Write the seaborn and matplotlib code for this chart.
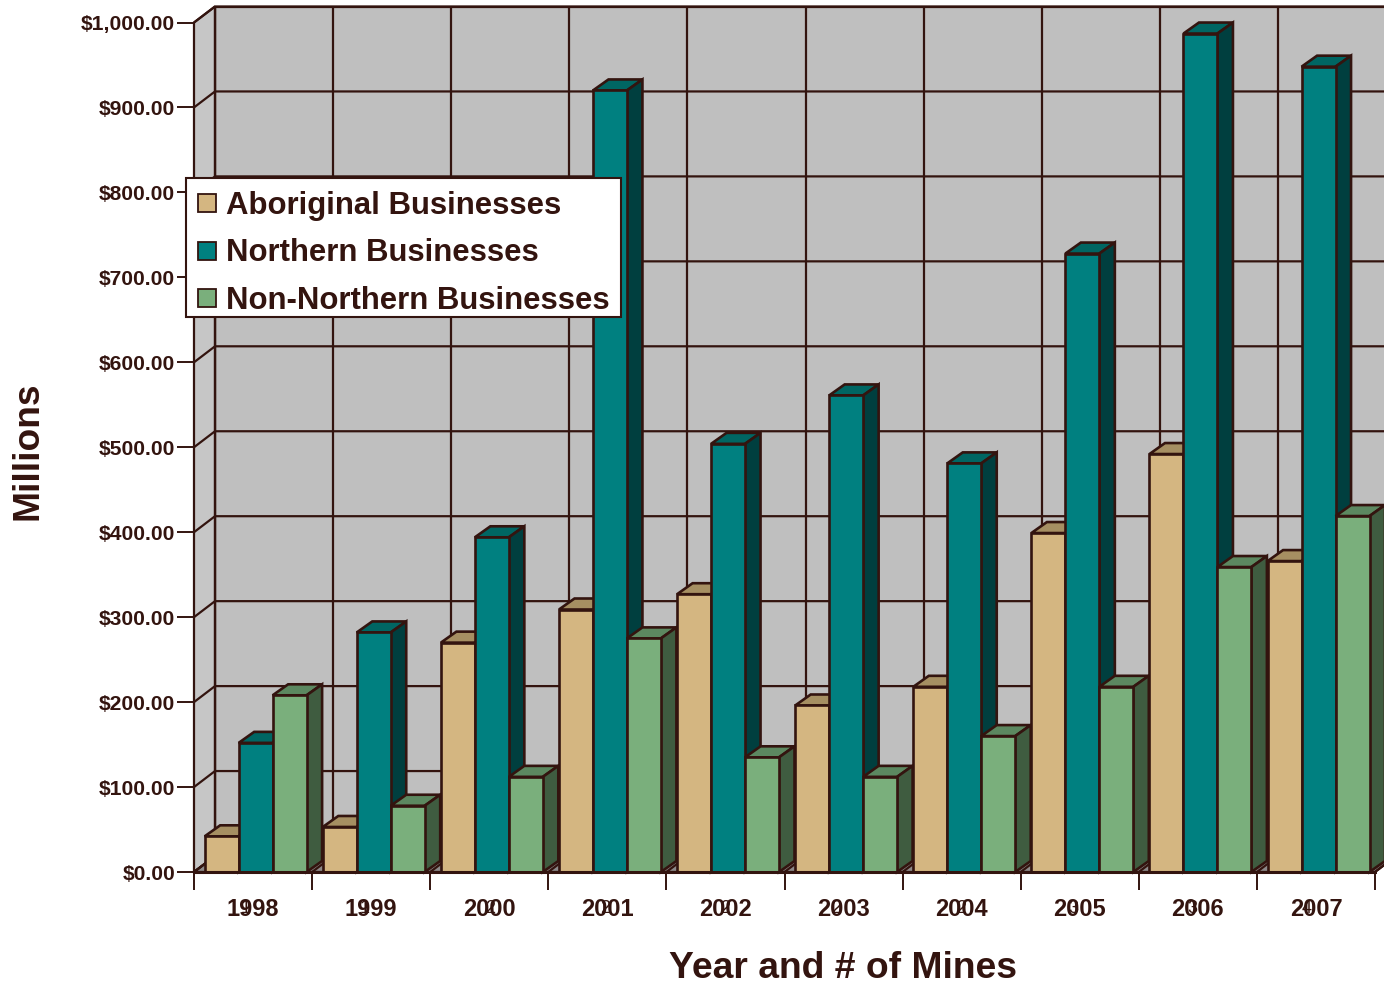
import matplotlib
matplotlib.use("Agg")
import matplotlib.pyplot as plt
from matplotlib.lines import Line2D
from matplotlib.patches import Polygon, Rectangle
from matplotlib.ticker import FuncFormatter
import pandas as pd
import seaborn as sns

years = ["1998", "1999", "2000", "2001", "2002", "2003", "2004", "2005", "2006", "2007"]
mines = ["1", "1", "2", "2", "2", "2", "2", "3", "3", "4"]
aboriginal = [42, 53, 270, 309, 327, 196, 218, 399, 492, 366]
northern = [152, 282, 394, 920, 504, 561, 481, 728, 987, 948]
non_northern = [208, 78, 112, 275, 135, 112, 160, 218, 359, 419]
series_names = ["Aboriginal Businesses", "Northern Businesses", "Non-Northern Businesses"]
y_ticks = [0, 100, 200, 300, 400, 500, 600, 700, 800, 900, 1000]

INK = "#33140F"
FRONT = ["#D4B681", "#008080", "#7AAF7C"]
TOP = ["#A68F62", "#006663", "#5C8860"]
SIDE = ["#7F6D4B", "#003F3F", "#3F5C40"]
W, H = 1384, 985

sns.set_theme(style="white")
plt.rcParams["font.family"] = ["Liberation Sans", "DejaVu Sans"]
plt.rcParams["font.weight"] = "bold"

df = pd.DataFrame({"year": years, series_names[0]: aboriginal,
                   series_names[1]: northern, series_names[2]: non_northern})
long = df.melt(id_vars="year", var_name="series", value_name="value")

fig = plt.figure(figsize=(W / 100, H / 100), dpi=100, facecolor="white")
L, R, T, B = 194, 1375, 22.5, 872
ax = fig.add_axes([L / W, 1 - B / H, (R - L) / W, (B - T) / H])
ax.set_facecolor("none")

sns.barplot(data=long, x="year", y="value", hue="series", hue_order=series_names,
            order=years, palette=FRONT, saturation=1, width=0.863, gap=0, dodge=True,
            edgecolor=INK, linewidth=1.9, legend=False, ax=ax)

shift = 0.022
ax.set_xlim(-0.5 - shift, 9.5 - shift)
ax.set_ylim(0, 1000)

px = 10 / (R - L)          # data x per pixel
py = 1000 / (B - T)        # data y per pixel
wall_dx, wall_dy = 21 * px, 16 * py
bar_dx, bar_dy = 15.5 * px, 11 * py
x0, x1 = ax.get_xlim()


def poly(points, face, z, lw=1.9):
    ax.add_patch(Polygon(points, closed=True, facecolor=face, edgecolor=INK, linewidth=lw,
                         joinstyle="miter", clip_on=False, zorder=z))


def line(xs, ys, z=1.2, lw=1.6):
    ax.plot(xs, ys, color=INK, lw=lw, clip_on=False, zorder=z, solid_capstyle="butt")


# walls and floor
poly([(x0, 0), (x0 + wall_dx, wall_dy), (x0 + wall_dx, 1000 + wall_dy), (x0, 1000)], "#C6C6C6", 0.6, lw=1.6)
poly([(x0 + wall_dx, wall_dy), (x1 + wall_dx, wall_dy), (x1 + wall_dx, 1000 + wall_dy),
      (x0 + wall_dx, 1000 + wall_dy)], "#BFBFBF", 0.5, lw=1.6)
poly([(x0, 0), (x1, 0), (x1 + wall_dx, wall_dy), (x0 + wall_dx, wall_dy)], "#8C8888", 0.7, lw=1.6)

# gridlines on the walls
for v in y_ticks:
    line([x0, x0 + wall_dx, x1 + wall_dx], [v, v + wall_dy, v + wall_dy])
boundaries = [i - 0.5 - shift for i in range(len(years) + 1)]
for b in boundaries:
    line([b + wall_dx, b + wall_dx], [wall_dy, 1000 + wall_dy])
    line([b, b + wall_dx], [0, wall_dy], z=1.3)

# 3-D faces around the seaborn bars
for s, container in enumerate(ax.containers):
    for g, bar in enumerate(container):
        z = 3 + g * 3 + s * 0.5
        xa, wd, hg = bar.get_x(), bar.get_width(), bar.get_height()
        bar.set_zorder(z + 0.2)
        poly([(xa, hg), (xa + wd, hg), (xa + wd + bar_dx, hg + bar_dy), (xa + bar_dx, hg + bar_dy)], TOP[s], z)
        poly([(xa + wd, 0), (xa + wd + bar_dx, bar_dy), (xa + wd + bar_dx, hg + bar_dy), (xa + wd, hg)], SIDE[s], z)

# axes furniture
ax.set_yticks(y_ticks)
ax.yaxis.set_major_formatter(FuncFormatter(lambda v, _: f"${v:,.2f}"))
ax.tick_params(axis="y", length=12.2, width=1.4, color=INK, labelcolor=INK, labelsize=15.2, pad=1.5, left=True)
centers = [g - shift for g in range(len(years))]
ax.set_xticks(centers)
ax.set_xticklabels(years)
ax.tick_params(axis="x", which="major", length=0, labelcolor=INK, labelsize=17, pad=19)
ax.set_xticks(boundaries, minor=True)
ax.tick_params(axis="x", which="minor", length=13, width=1.4, color=INK, bottom=True)
for lab in ax.get_xticklabels() + ax.get_yticklabels():
    lab.set_fontweight("bold")

# number of mines, overprinted on the year labels in the original
mine_offsets_px = [-7, -7, 1, -2, 0, -7, -1, -6, -6, -9]
for c, m, off in zip(centers, mines, mine_offsets_px):
    ax.annotate(m, xy=(c, 0), xycoords=("data", "axes fraction"), xytext=(off * 0.72, -20),
                textcoords="offset points", ha="center", va="top", fontsize=13,
                fontweight="normal", color=INK, annotation_clip=False)

for name in ["top", "right"]:
    ax.spines[name].set_visible(False)
ax.spines["left"].set_color(INK)
ax.spines["left"].set_linewidth(1.4)
ax.spines["left"].set_zorder(1.4)
ax.spines["bottom"].set_color(INK)
ax.spines["bottom"].set_linewidth(2.2)
ax.spines["bottom"].set_zorder(100)

ax.set_xlabel("Year and # of Mines", fontsize=26.8, fontweight="bold", color=INK)
ax.xaxis.set_label_coords(843 / W, 1 - 969 / H, transform=fig.transFigure)
ax.xaxis.label.set_va("center")
ax.set_ylabel("Millions", fontsize=26.7, fontweight="bold", color=INK)
ax.yaxis.set_label_coords(28 / W, 1 - 451 / H, transform=fig.transFigure)
ax.yaxis.label.set_va("center")

# legend box drawn separately so that its padding can follow the original
fig.add_artist(Rectangle((186 / W, 1 - 317 / H), 435 / W, 139 / H, transform=fig.transFigure,
                         facecolor="white", edgecolor=INK, linewidth=1.5, zorder=10))
handles = [Line2D([], [], linestyle="none", marker="s", markersize=12.5, markerfacecolor=c,
                  markeredgecolor=INK, markeredgewidth=1.3) for c in FRONT]
leg = fig.legend(handles, series_names, loc="upper left", bbox_to_anchor=(186 / W, 1 - 182 / H),
                 bbox_transform=fig.transFigure, borderaxespad=0, frameon=False,
                 handlelength=0.77, numpoints=1,
                 handletextpad=0.22, labelspacing=0.55, borderpad=0.3, labelcolor=INK,
                 prop={"family": "Liberation Sans", "weight": "bold", "size": 22.4})
leg.set_zorder(11)
ax.set_zorder(1)

fig.savefig("out.png", dpi=100, facecolor="white")
